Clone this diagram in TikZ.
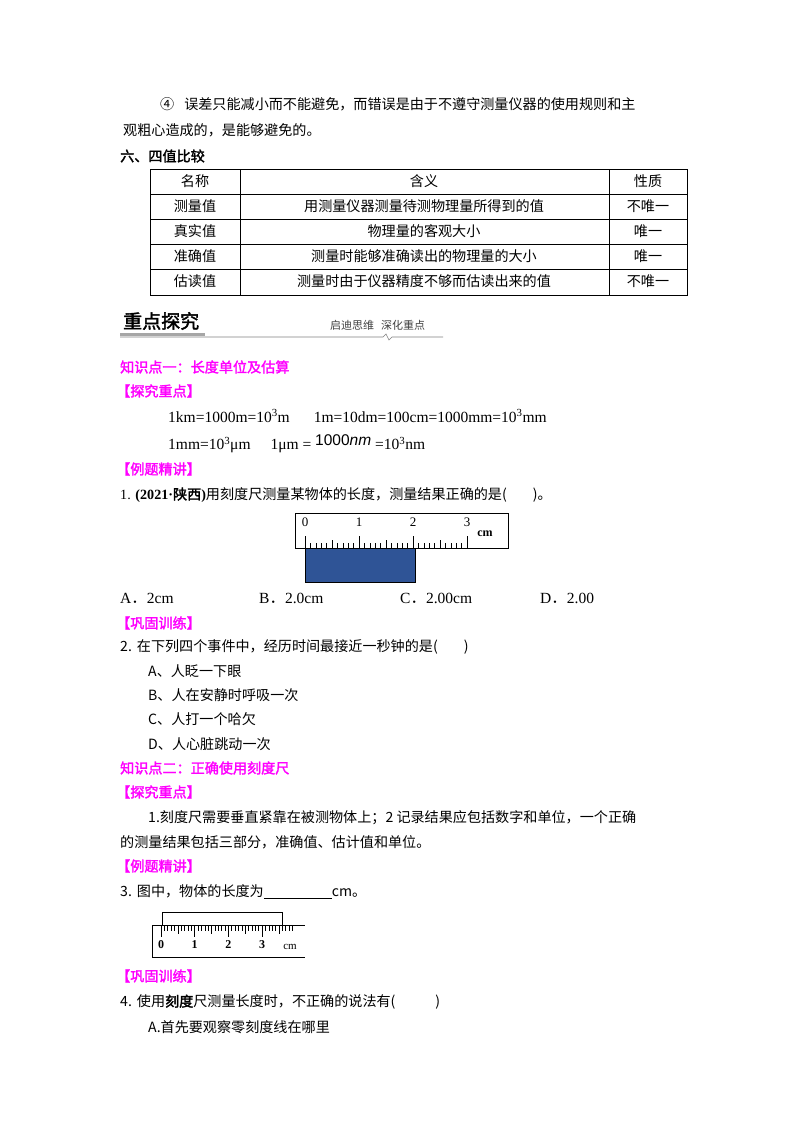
\documentclass[tikz,border=0pt]{standalone}
\usepackage{fontspec}
\setmainfont{Liberation Serif}
\newfontfamily\cjk{Noto Sans CJK SC}
\newfontfamily\cjkb[FakeBold=2]{Noto Sans CJK SC}
\definecolor{mag}{RGB}{255,0,255}
\definecolor{blk}{RGB}{47,84,150}
\begin{document}
\begin{tikzpicture}[x=1pt,y=-1pt,
  t/.style={anchor=west,inner sep=0pt,font=\fontsize{14.1}{17}\selectfont\cjk},
  h/.style={t,font=\fontsize{14.1}{17}\selectfont\cjkb},
  m/.style={t,font=\fontsize{14.1}{17}\selectfont\cjkb,text=mag},
  c/.style={anchor=center,inner sep=0pt,font=\fontsize{14.1}{17}\selectfont\cjk},
  f/.style={anchor=west,inner sep=0pt,font=\fontsize{15.5}{17}\selectfont}]
\useasboundingbox[fill=white] (0,0) rectangle (800,1132);
\node[t] (l1) at (160,104) {④\hspace{10pt}误差只能减小而不能避免，而错误是由于不遵守测量仪器的使用规则和主};
\node[t] (l2) at (123,130) {观粗心造成的，是能够避免的。};
\node[h] (s6) at (120,156) {六、四值比较};
% table
\draw[line width=0.8pt] (150,169) rectangle (687,295);
\foreach \y in {194,219,244,269} \draw[line width=0.6pt] (150,\y) -- (687,\y);
\draw[line width=0.6pt] (240,169) -- (240,295) (609,169) -- (609,295);
\node[c] (a1) at (195,181) {名称}; \node[c] (b1) at (424,181) {含义}; \node[c] (c1) at (648,181) {性质};
\node[c] (a2) at (195,206) {测量值}; \node[c] (b2) at (424,206) {用测量仪器测量待测物理量所得到的值}; \node[c] (c2) at (648,206) {不唯一};
\node[c] (a3) at (195,231) {真实值}; \node[c] (b3) at (424,231) {物理量的客观大小}; \node[c] (c3) at (648,231) {唯一};
\node[c] (a4) at (195,256) {准确值}; \node[c] (b4) at (424,256) {测量时能够准确读出的物理量的大小}; \node[c] (c4) at (648,256) {唯一};
\node[c] (a5) at (195,281) {估读值}; \node[c] (b5) at (424,281) {测量时由于仪器精度不够而估读出来的值}; \node[c] (c5) at (648,281) {不唯一};
% header
\node[anchor=west,inner sep=0pt,font=\fontsize{19}{22}\selectfont\cjkb] (zd) at (123,321) {重点探究};
\fill[gray!70] (120,333) rectangle (205,336);
\draw[gray,line width=0.6pt] (120,337) -- (383,337) -- (386,334) -- (389,340) -- (392,337) -- (443,337);
\node[anchor=west,inner sep=0pt,font=\fontsize{11}{12}\selectfont\cjk,text=black!75] (qd) at (330,325) {启迪思维\hspace{7pt}深化重点};
\node[m] (k1) at (120,367) {知识点一：长度单位及估算};
\node[m] (t1) at (116,391) {【探究重点】};
\node[f] (e1) at (168,416) {1km=1000m=10\textsuperscript{3}m\hspace{24pt}1m=10dm=100cm=1000mm=10\textsuperscript{3}mm};
\node[f] (e2) at (168,444) {1mm=10\textsuperscript{3}μm\hspace{20pt}1μm = \raisebox{4pt}{\fontspec{Liberation Sans}1000\textit{nm}} =10\textsuperscript{3}nm};
\node[m] (t2) at (116,469) {【例题精讲】};
\node[t] (q1) at (120,495) {{\fontspec{Liberation Serif}1. \textbf{(2021·}}{\cjkb 陕西}{\fontspec{Liberation Serif}\textbf{)}}用刻度尺测量某物体的长度，测量结果正确的是(\hspace{26pt})。};
% ruler 1
\draw[line width=0.8pt] (295,513) rectangle (508,548);
\fill[blk] (305,548) rectangle (415,582);
\draw[line width=0.6pt] (305,548) rectangle (415,582);
\foreach \i in {0,...,30} {
  \pgfmathsetmacro\L{mod(\i,10)==0?12:(mod(\i,5)==0?8:5)}
  \draw[line width=0.5pt] ({305+5.4*\i},548) -- ++(0,-\L);
}
\draw[line width=0.5pt] (305,548) -- (467,548);
\foreach \n in {0,1,2,3} \node[inner sep=0pt,font=\fontsize{13}{14}\selectfont] (r\n) at ({305+54*\n},522) {\n};
\node[inner sep=0pt,font=\fontsize{12}{14}\selectfont\bfseries] (rcm) at (485,534) {cm};
\node[f] (oA) at (120,598) {A{\cjk ．}2cm};
\node[f] (oB) at (259,598) {B{\cjk ．}2.0cm};
\node[f] (oC) at (400,598) {C{\cjk ．}2.00cm};
\node[f] (oD) at (540,598) {D{\cjk ．}2.00};
\node[m] (t3) at (116,623) {【巩固训练】};
\node[t] (q2) at (120,647) {2.\hspace{5pt}在下列四个事件中，经历时间最接近一秒钟的是(\hspace{26pt})};
\node[t] (q2a) at (148,671) {A、人眨一下眼};
\node[t] (q2b) at (148,695) {B、人在安静时呼吸一次};
\node[t] (q2c) at (148,719) {C、人打一个哈欠};
\node[t] (q2d) at (148,744) {D、人心脏跳动一次};
\node[m] (k2) at (120,768) {知识点二：正确使用刻度尺};
\node[m] (t4) at (116,792) {【探究重点】};
\node[t] (p1) at (148,818) {1.刻度尺需要垂直紧靠在被测物体上；2 记录结果应包括数字和单位，一个正确};
\node[t] (p2) at (120,842) {的测量结果包括三部分，准确值、估计值和单位。};
\node[m] (t5) at (116,866) {【例题精讲】};
\node[t] (q3) at (120,892) {3.\hspace{5pt}图中，物体的长度为\underline{\hspace{68pt}}cm。};
% ruler 2
\draw[line width=0.7pt] (162,912) rectangle (282,925);
\draw[line width=0.7pt] (152,925) -- (305,925);
\draw[line width=0.7pt] (152,925) -- (152,957) -- (305,957);
\foreach \i in {0,...,39} {
  \pgfmathsetmacro\L{mod(\i,10)==0?12:(mod(\i,5)==0?9:6)}
  \draw[line width=0.6pt] ({161+3.37*\i},925) -- ++(0,\L);
}
\foreach \n in {0,1,2,3} \node[inner sep=0pt,font=\fontsize{12}{12}\selectfont\bfseries] (s\n) at ({161+33.7*\n},945) {\n};
\node[inner sep=0pt,font=\fontsize{11}{12}\selectfont] (scm) at (290,947) {cm};
\node[m] (t6) at (116,976) {【巩固训练】};
\node[t] (q4) at (120,1002) {4.\hspace{5pt}使用{\cjkb 刻度}尺测量长度时，不正确的说法有(\hspace{40pt})};
\node[t] (q4a) at (148,1027) {A.首先要观察零刻度线在哪里};
\end{tikzpicture}
\end{document}
